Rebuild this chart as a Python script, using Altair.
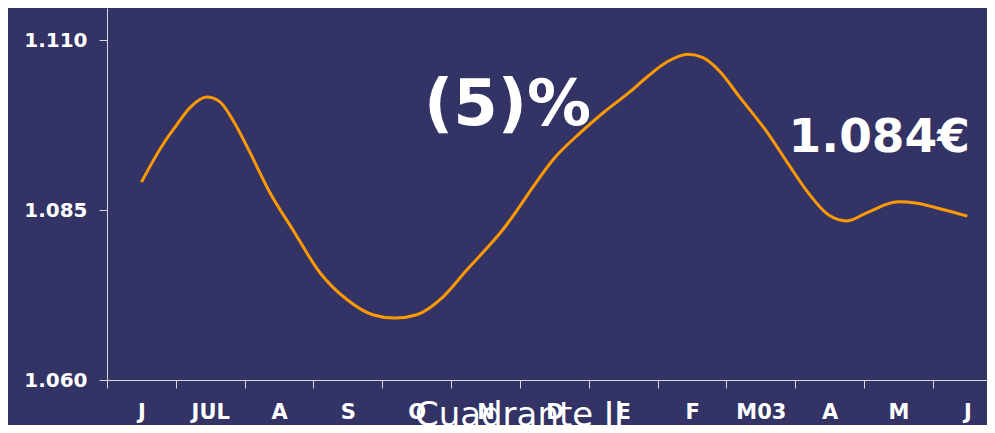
import altair as alt
import pandas as pd

# Month labels (categories)
month_labels = ["J", "JUL", "A", "S", "O", "N", "D", "E", "F", "M03", "A", "M", "J"]

# Series: position along the month axis (0 = first "J") and value
pos = [0.0, 0.31, 0.49, 0.71, 0.95, 1.14, 1.33, 1.58, 1.87, 2.20, 2.60, 2.99, 3.36,
       3.68, 4.00, 4.38, 4.73, 5.02, 5.25, 5.46, 5.69, 5.98, 6.37, 6.71, 7.10, 7.35,
       7.64, 7.94, 8.16, 8.41, 8.67, 9.10, 9.39, 9.69, 9.98, 10.25, 10.56, 10.99,
       11.27, 11.63, 12.0]
values = [1.0891, 1.0946, 1.0972, 1.1001, 1.1016, 1.1009, 1.0982, 1.0934, 1.0875,
          1.0821, 1.0757, 1.0718, 1.0696, 1.0691, 1.0696, 1.0722, 1.0762, 1.0794,
          1.0821, 1.0850, 1.0884, 1.0924, 1.0963, 1.0993, 1.1024, 1.1046, 1.1068,
          1.1079, 1.1074, 1.1053, 1.1019, 1.0963, 1.0919, 1.0875, 1.0843, 1.0834,
          1.0847, 1.0862, 1.0860, 1.0851, 1.0841]

y_ticks = [1.060, 1.085, 1.110]

# Annotations
ann_text = ["(5)%", "1.084€"]
ann_pos = [5.32, 10.72]
ann_val = [1.0975, 1.0935]
ann_size = [64, 47]

BG = "#333366"
AXIS = "#d8d8e0"

df = pd.DataFrame({"pos": pos, "value": values})
ann = pd.DataFrame({"pos": ann_pos, "value": ann_val, "text": ann_text, "size": ann_size})

W = 880
H = 372
step = 68.83
x_max = -0.5 + W / step
y_max = 1.060 + H / 6800.0

label_arr = "[" + ",".join("'" + s + "'" for s in month_labels) + "]"
tick_vals = [i - 0.5 for i in range(13)]

x_scale = alt.Scale(domain=[-0.5, x_max], nice=False, zero=False)
y_scale = alt.Scale(domain=[1.060, y_max], nice=False, zero=False)

x_axis = alt.Axis(
    values=tick_vals,
    labelExpr=label_arr + "[round(datum.value + 0.5)]",
    labelOffset=step / 2,
    labelFlush=False,
    labelOverlap=False,
    labelAlign="center",
    labelFont="DejaVu Sans",
    labelFontWeight="bold",
    labelFontSize=21,
    labelColor="white",
    labelPadding=13,
    tickSize=8,
    tickColor=AXIS,
    domainColor=AXIS,
    grid=False,
    title="Cuadrante II",
    titleFont="DejaVu Sans",
    titleFontWeight="normal",
    titleFontSize=34,
    titleColor="white",
    titleX=412,
    titleY=45,
    titleAlign="center",
    titleBaseline="alphabetic",
)

y_axis = alt.Axis(
    values=y_ticks,
    format=".3f",
    labelFont="DejaVu Sans",
    labelFontWeight="bold",
    labelFontSize=20,
    labelColor="white",
    labelPadding=12,
    tickSize=8,
    tickColor=AXIS,
    domainColor=AXIS,
    grid=False,
    title=None,
)

line = alt.Chart(df).mark_line(color="#FF9900", strokeWidth=3, interpolate="monotone").encode(
    x=alt.X("pos:Q", scale=x_scale, axis=x_axis),
    y=alt.Y("value:Q", scale=y_scale, axis=y_axis),
)

texts = alt.Chart(ann).mark_text(
    color="white", font="DejaVu Sans", fontWeight="bold", align="center", baseline="alphabetic"
).encode(
    x=alt.X("pos:Q", scale=x_scale),
    y=alt.Y("value:Q", scale=y_scale),
    text="text:N",
    size=alt.Size("size:Q", scale=None, legend=None),
)

chart = alt.layer(line, texts).properties(
    width=W,
    height=H,
    background=BG,
    padding={"left": 99, "top": 0, "right": 0, "bottom": 45},
    autosize=alt.AutoSizeParams(type="none"),
).configure_view(stroke=None)

chart.save("out.html", embed_options={"renderer": "svg", "actions": False})
